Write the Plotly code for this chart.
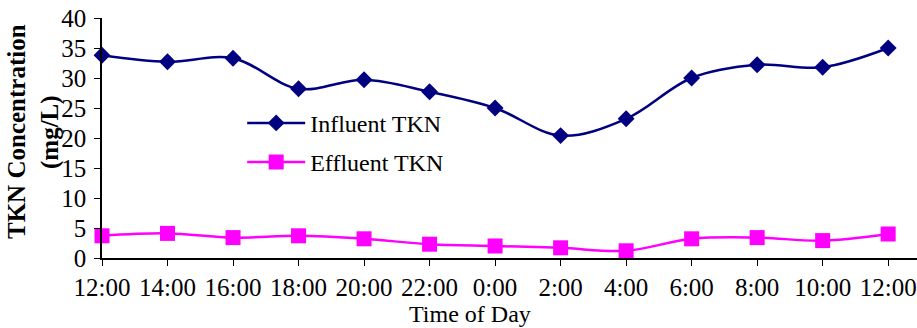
import plotly.graph_objects as go

times = ["12:00", "14:00", "16:00", "18:00", "20:00", "22:00", "0:00",
         "2:00", "4:00", "6:00", "8:00", "10:00", "12:00"]
influent = [33.8, 32.7, 33.3, 28.2, 29.7, 27.7, 25.0, 20.4, 23.2, 30.0, 32.2, 31.8, 35.0]
effluent = [3.7, 4.1, 3.4, 3.7, 3.2, 2.3, 2.0, 1.7, 1.2, 3.2, 3.4, 2.9, 4.0]
ytitle_lines = ["TKN Concentration", "(mg/L)"]

x = list(range(len(times)))
FONT = "Liberation Serif, Times New Roman, serif"

fig = go.Figure()
fig.add_trace(go.Scatter(
    x=x, y=influent, name="Influent TKN", mode="lines+markers",
    line=dict(color="#000080", width=2.5, shape="spline", smoothing=1.0),
    marker=dict(symbol="diamond", size=13, color="#000080"),
    cliponaxis=False, legendgroup="a"))
fig.add_trace(go.Scatter(
    x=x, y=effluent, name="Effluent TKN", mode="lines+markers",
    line=dict(color="#FF00FF", width=2.5, shape="spline", smoothing=1.0),
    marker=dict(symbol="square", size=15, color="#FF00FF"),
    cliponaxis=False, legendgroup="b"))

annotations = []
for txt, px in zip(ytitle_lines, [16, 50]):
    annotations.append(dict(
        text="<b>" + txt + "</b>", textangle=-90,
        xref="paper", yref="paper", x=(px - 102) / 815, y=(258 - 132) / 240,
        xanchor="center", yanchor="middle", showarrow=False,
        font=dict(family=FONT, size=25, color="black")))
annotations.append(dict(
    text="Time of Day", xref="paper", yref="paper",
    x=(470 - 102) / 815, y=(258 - 314) / 240,
    xanchor="center", yanchor="middle", showarrow=False,
    font=dict(family=FONT, size=24, color="black")))

fig.update_layout(
    width=917, height=328,
    margin=dict(l=102, r=0, t=18, b=70),
    paper_bgcolor="white", plot_bgcolor="white",
    font=dict(family=FONT, size=25, color="black"),
    showlegend=True,
    legend=dict(x=0.172, y=0.655, xanchor="left", yanchor="top",
                bgcolor="rgba(0,0,0,0)", borderwidth=0,
                font=dict(family=FONT, size=24, color="black"),
                itemwidth=58, tracegroupgap=5, traceorder="grouped"),
    xaxis=dict(range=[0, 12.44], tickmode="array", tickvals=x, ticktext=times,
               showgrid=False, zeroline=False, showline=True, linecolor="black",
               linewidth=1.5, ticks="outside", ticklen=6, tickcolor="black",
               ticklabelstandoff=0, tickfont=dict(family=FONT, size=25)),
    yaxis=dict(range=[0, 40], dtick=5, showgrid=False, zeroline=False,
               showline=True, linecolor="black", linewidth=1.5,
               ticks="outside", ticklen=6, tickcolor="black",
               ticklabelstandoff=3, tickfont=dict(family=FONT, size=25)),
    annotations=annotations,
)

fig.write_html("out.html")
